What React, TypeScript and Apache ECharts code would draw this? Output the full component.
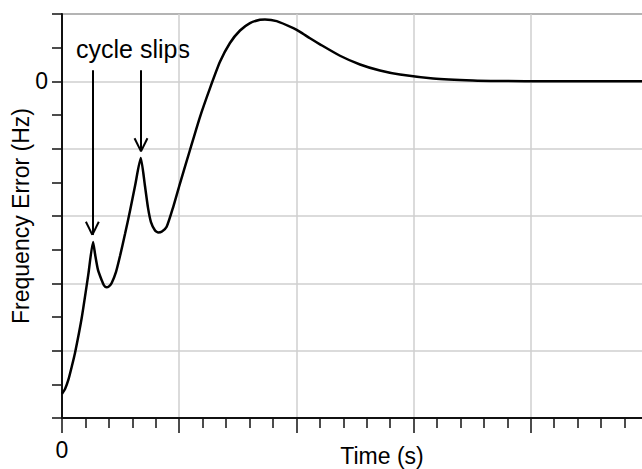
import React, { useEffect, useRef } from "react";
import * as echarts from "echarts";

// Frequency error trace (time in s, error in Hz-units of the plot grid)
const timeValues = [
  0, 0.026, 0.054, 0.085, 0.111, 0.168, 0.224, 0.265, 0.282, 0.307, 0.339, 0.358,
  0.38, 0.401, 0.424, 0.461, 0.495, 0.538, 0.58, 0.623, 0.672, 0.708, 0.734, 0.759,
  0.794, 0.822, 0.853, 0.893, 0.95, 1.007, 1.092, 1.177, 1.263, 1.348, 1.433, 1.519,
  1.604, 1.689, 1.732, 1.832, 1.974, 2.031, 2.116, 2.201, 2.372, 2.543, 2.713, 2.884,
  3.166, 3.507, 3.737, 4.164, 5,
];
const errorValues = [
  -9.28, -9.14, -8.87, -8.45, -8.07, -7.03, -5.75, -4.77, -5.13, -5.6, -5.91, -6.06,
  -6.12, -6.09, -5.99, -5.66, -5.19, -4.53, -3.85, -3.11, -2.28, -3.11, -3.76, -4.18,
  -4.43, -4.49, -4.46, -4.32, -3.72, -3.03, -2.04, -1.06, -0.2, 0.58, 1.14, 1.51,
  1.73, 1.83, 1.84, 1.79, 1.58, 1.47, 1.28, 1.1, 0.76, 0.5, 0.32, 0.2,
  0.086, 0.027, 0.012, 0, 0,
];

// Annotation arrows: time, tail value, tip value
const arrowTimes = [0.259, 0.674];
const arrowTails = [0.33, 0.33];
const arrowTips = [-4.56, -2.08];
const annotationText = "cycle slips";

const xLabels = ["0"];
const yLabels = ["0"];

const FONT = "'Liberation Sans', Arial, sans-serif";

export default function App() {
  const ref = useRef<HTMLDivElement>(null);

  useEffect(() => {
    if (!ref.current) return;
    const chart = echarts.init(ref.current, undefined, { renderer: "svg" });

    const data = timeValues.map((t, i) => [t, errorValues[i]]);
    const barbDt = 0.055;
    const barbDv = 0.39;
    const lines: any[] = [];
    arrowTimes.forEach((t, i) => {
      lines.push([{ coord: [t, arrowTails[i]] }, { coord: [t, arrowTips[i]] }]);
      lines.push([{ coord: [t - barbDt, arrowTips[i] + barbDv] }, { coord: [t, arrowTips[i]] }]);
      lines.push([{ coord: [t + barbDt, arrowTips[i] + barbDv] }, { coord: [t, arrowTips[i]] }]);
    });

    chart.setOption({
      animation: false,
      backgroundColor: "#fff",
      grid: {
        left: 62,
        top: 14,
        bottom: 51,
        right: -6,
        containLabel: false,
        outerBoundsMode: "none",
        show: true,
        borderColor: "#333",
        borderWidth: 1.5,
      },
      xAxis: {
        type: "value",
        min: 0,
        max: 5,
        interval: 1,
        name: "Time (s)",
        nameLocation: "middle",
        nameGap: 26,
        nameMoveOverlap: false,
        nameTextStyle: { fontSize: 23, color: "#000", fontFamily: FONT, padding: [0, 0, 0, 54] },
        axisLine: { onZero: false, lineStyle: { color: "#111", width: 2 } },
        axisTick: { show: true, inside: false, length: 15, lineStyle: { color: "#111", width: 1.5 } },
        minorTick: { show: true, splitNumber: 5, length: 10, lineStyle: { color: "#111", width: 1.5 } },
        splitLine: { show: true, lineStyle: { color: "#cfcfcf", width: 1.5 } },
        axisLabel: {
          margin: 20,
          fontSize: 23,
          color: "#000",
          fontFamily: FONT,
          formatter: (v: number) => (xLabels.includes(String(v)) ? String(v) : ""),
        },
      },
      yAxis: {
        type: "value",
        min: -10,
        max: 2,
        interval: 2,
        name: "Frequency Error (Hz)",
        nameLocation: "middle",
        nameGap: 30,
        nameMoveOverlap: false,
        nameTextStyle: { fontSize: 23, color: "#000", fontFamily: FONT },
        axisLine: { show: true, onZero: false, lineStyle: { color: "#111", width: 2 } },
        axisTick: { show: true, inside: false, length: 10, lineStyle: { color: "#111", width: 1.5 } },
        minorTick: { show: true, splitNumber: 2, length: 10, lineStyle: { color: "#111", width: 1.5 } },
        splitLine: { show: true, lineStyle: { color: "#cfcfcf", width: 1.5 } },
        axisLabel: {
          margin: 14,
          fontSize: 23,
          color: "#000",
          fontFamily: FONT,
          formatter: (v: number) => (yLabels.includes(String(v)) ? String(v) : ""),
        },
      },
      graphic: [
        {
          type: "text",
          left: 76,
          top: 36,
          style: { text: annotationText, fontSize: 25, fill: "#000", fontFamily: FONT },
        },
      ],
      series: [
        {
          type: "line",
          data,
          showSymbol: false,
          symbol: "none",
          smooth: 0.2,
          lineStyle: { color: "#000", width: 2.5 },
          markLine: {
            silent: true,
            symbol: ["none", "none"],
            label: { show: false },
            lineStyle: { color: "#000", width: 2, type: "solid" },
            data: lines,
          },
        },
      ],
    });

    return () => chart.dispose();
  }, []);

  return (
    <div
      ref={ref}
      style={{ position: "fixed", left: 0, top: 0, width: 642, height: 469 }}
    />
  );
}
